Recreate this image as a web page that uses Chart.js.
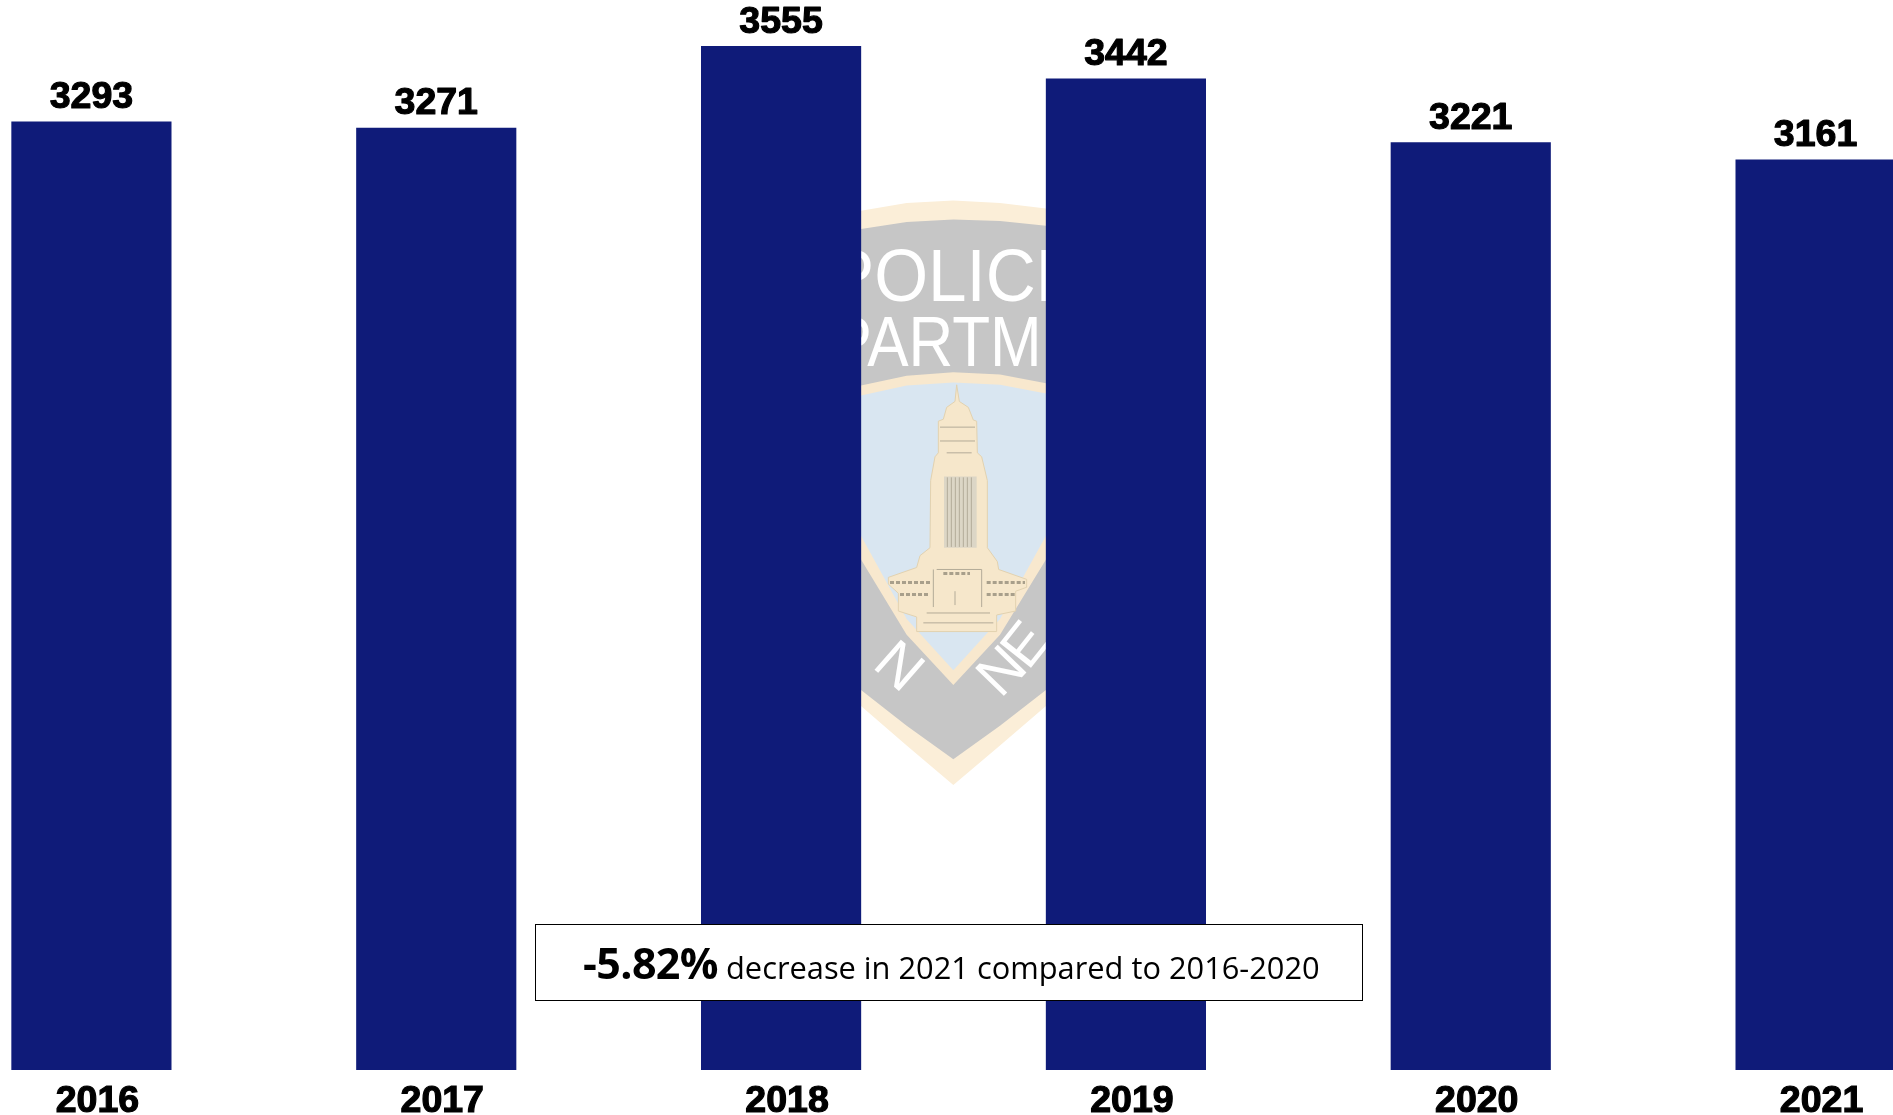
<!DOCTYPE html>
<html>
<head>
<meta charset="utf-8">
<script src="https://cdn.jsdelivr.net/npm/chart.js@4"></script>
<style>
html,body{margin:0;padding:0;background:#fff;width:1893px;height:1115px;overflow:hidden;position:relative}
#c{position:absolute;left:-81px;top:0}
#note{position:absolute;left:535px;top:924px;width:826px;height:75px;border:1.5px solid #000;background:#fff;box-sizing:content-box;
 font-family:"Open Sans",sans-serif;color:#000;font-size:30.8px;white-space:pre}
#note span{position:absolute;left:47px;top:3px;line-height:70px}
#note b{font-size:43px;font-weight:700;letter-spacing:-.6px;}
</style>
</head>
<body>
<canvas id="c" width="2069" height="1115"></canvas>
<div id="note"><span><b>-5.82%</b> decrease in 2021 compared to 2016-2020</span></div>
<script>
const categories = ['2016','2017','2018','2019','2020','2021'];
const incidents = [3293,3271,3555,3442,3221,3161];
const axisMax = 3716;

const barColor = '#0f1b79';

// Faded badge behind the bars (decoration only)
const badge = {
  id:'badge',
  beforeDatasetsDraw(chart){
    const ctx = chart.ctx;
    const ox = 81; // canvas offset
    const X = x => 840 + x/3 + ox, Y = y => 180 + y/2.529;
    const poly = (col, pts, stroke) => {
      ctx.beginPath();
      pts.forEach((p,i)=> i ? ctx.lineTo(X(p[0]),Y(p[1])) : ctx.moveTo(X(p[0]),Y(p[1])));
      ctx.closePath(); ctx.fillStyle = col; ctx.fill();
      if(stroke){ctx.strokeStyle=stroke;ctx.lineWidth=1;ctx.stroke();}
    };
    ctx.save();
    ctx.beginPath(); ctx.rect(X(55),0,X(625)-X(55),1115); ctx.clip();
    poly('#fbeed8',[[-10,85],[63,78],[200,58],[340,52],[480,58],[618,72],[690,85],[690,1240],[618,1330],[480,1430],[340,1530],[200,1430],[63,1330],[-10,1240]]);
    poly('#c6c6c6',[[-10,130],[63,124],[200,106],[340,100],[480,104],[618,116],[690,130],[690,1220],[618,1290],[480,1380],[340,1465],[200,1380],[63,1290],[-10,1220]]);
    poly('#f8e8ce',[[-10,535],[63,520],[200,495],[340,486],[480,492],[618,514],[690,530],[690,860],[618,960],[480,1150],[340,1277],[200,1150],[63,960],[-10,860]]);
    poly('#d9e6f1',[[-10,555],[63,545],[200,520],[340,512],[480,518],[618,540],[690,555],[690,800],[618,900],[480,1110],[340,1240],[200,1110],[63,900],[-10,800]]);
    // capitol
    poly('#f6e7cb',[[350,518],[358,560],[385,575],[400,607],[410,610],[412,690],[425,700],[442,760],[442,930],[472,965],[476,985],[560,1010],[560,1030],[527,1040],[527,1090],[470,1100],[470,1142],[230,1142],[230,1105],[175,1090],[175,1045],[145,1022],[145,1005],[230,980],[240,950],[270,930],[272,760],[285,700],[295,690],[295,610],[310,605],[320,575],[345,560]],'#e2d2b0');
    poly('#dcd6c6',[[312,750],[410,750],[410,930],[312,930]]);
    ctx.strokeStyle='#b3ab98'; ctx.lineWidth=1;
    const seg=l=>{ctx.beginPath();ctx.moveTo(X(l[0]),Y(l[1]));ctx.lineTo(X(l[2]),Y(l[3]));ctx.stroke();};
    [322,334,346,358,370,382,394].forEach(x=>seg([x,752,x,928]));
    [[300,625,405,625],[300,660,405,660],[320,690,395,690],[290,985,425,985],[260,1095,450,1095],[250,1120,460,1120],[280,985,280,1080],[425,985,425,1080],[345,1040,345,1075]].forEach(seg);
    ctx.lineWidth=3; ctx.strokeStyle='#a89f8b';
    [[150,1018,270,1018],[440,1018,555,1018],[180,1048,270,1048],[440,1048,525,1048],[310,995,390,995]].forEach(l=>{ctx.setLineDash([4,2]);seg(l);});
    ctx.setLineDash([]);
    ctx.fillStyle='#ffffff'; ctx.textAlign='center'; ctx.textBaseline='alphabetic';
    const txt=(s,x,y,size,rot,sx,sy)=>{
      ctx.save();ctx.translate(X(x),Y(y));ctx.rotate(rot||0);ctx.scale(sx||1,sy||1);
      ctx.font=size+'px "Liberation Sans Narrow","Liberation Sans",sans-serif';
      ctx.fillText(s,0,0);ctx.restore();
    };
    txt('POLICE',345,305,66,0,1.05,1.13);
    txt('DEPARTMENT',345,470,62,0,1.0,1.13);
    txt('N',140,1265,58,0.72,1,1);
    txt('N',525,1275,58,-0.8,1,1);
    txt('E',600,1205,58,-0.9,1,1);
    ctx.restore();
  }
};

// Values above the bars
const valueLabels = {
  id:'valueLabels',
  afterDatasetsDraw(chart){
    const ctx = chart.ctx, meta = chart.getDatasetMeta(0);
    ctx.save();
    ctx.font='bold 37.5px "Liberation Sans",Arial,sans-serif';
    ctx.fillStyle='#000'; ctx.strokeStyle='#000'; ctx.lineWidth=1.2; ctx.lineJoin='round';
    ctx.textAlign='center'; ctx.textBaseline='middle';
    meta.data.forEach((el,i)=>{
      ctx.fillText(String(incidents[i]),el.x,el.y-24);
      ctx.strokeText(String(incidents[i]),el.x,el.y-24);
    });
    ctx.restore();
  }
};

new Chart(document.getElementById('c'),{
  type:'bar',
  data:{labels:categories,datasets:[{data:incidents,backgroundColor:barColor,borderWidth:0,
    barThickness:159.5}]},
  options:{
    responsive:false,animation:false,
    layout:{padding:0},
    plugins:{legend:{display:false},tooltip:{enabled:false},title:{display:false}},
    scales:{
      x:{grid:{display:false},border:{display:false},
         afterFit(s){s.height=45;},
         ticks:{color:'#000',padding:1,labelOffset:6,maxRotation:0,autoSkip:false,
           textStrokeColor:'#000',textStrokeWidth:1.2,
           font:{family:'"Liberation Sans",Arial,sans-serif',size:37.5,weight:'bold'}}},
      y:{display:false,min:0,max:axisMax}
    }
  },
  plugins:[badge,valueLabels]
});
</script>
</body>
</html>
